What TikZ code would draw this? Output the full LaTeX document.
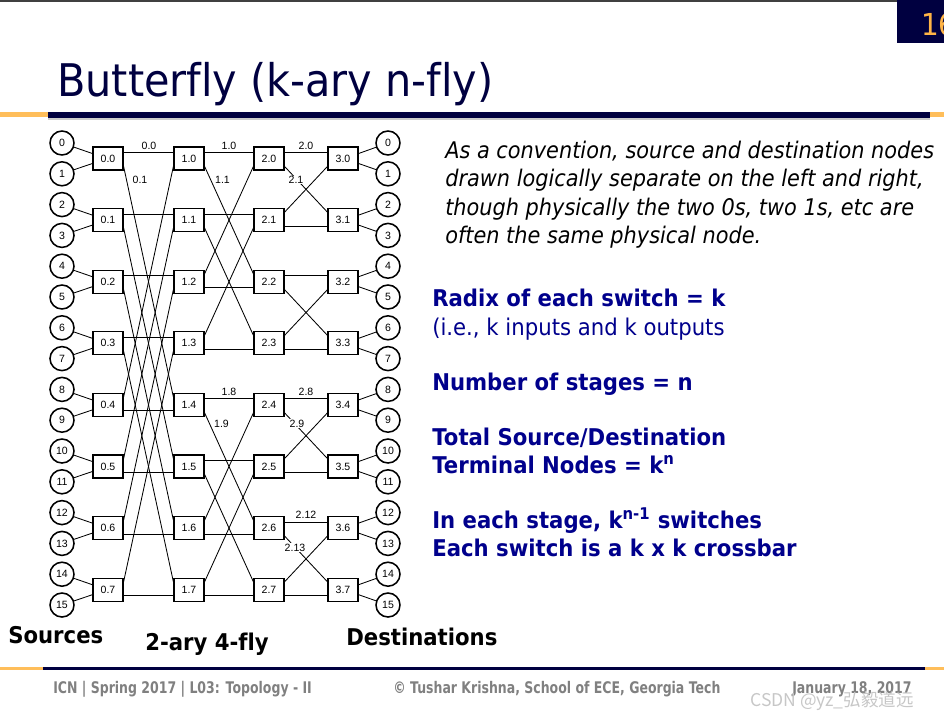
\documentclass[tikz,border=0pt]{standalone}
\usepackage{fontspec}
\setmainfont{DejaVu Sans}
\newfontfamily\slidefont[FakeStretch=0.92,Ligatures=NoCommon]{DejaVu Sans}
\newfontfamily\notefont[FakeStretch=0.91,Ligatures=NoCommon]{DejaVu Sans}
\newfontfamily\figfont{Liberation Sans}
\newfontfamily\footfont[FakeStretch=0.78,Ligatures=NoCommon]{DejaVu Sans}
\newfontfamily\cjkfont{Noto Sans CJK SC}
\usetikzlibrary{calc}
\definecolor{slidenavy}{RGB}{0,0,64}
\definecolor{textnavy}{RGB}{0,0,140}
\definecolor{barorange}{RGB}{255,190,90}
\definecolor{pagegold}{RGB}{255,180,70}
\definecolor{footgray}{RGB}{128,128,128}
\tikzset{
  term/.style={draw,circle,line width=1.1pt,minimum size=6mm,inner sep=0pt,font=\figfont\fontsize{7.5}{8}\selectfont},
  switch/.style={draw,rectangle,line width=0.9pt,minimum width=7.5mm,minimum height=5.75mm,inner sep=0pt,font=\figfont\fontsize{7.5}{8}\selectfont},
  link/.style={line width=0.6pt},
  linklabel/.style={inner sep=0.5pt,font=\figfont\fontsize{7.5}{8}\selectfont},
  crosslabel/.style={linklabel,fill=white},
  notetext/.style={anchor=base west,inner sep=0pt,font=\notefont\itshape\fontsize{16.3}{20}\selectfont},
  pointtext/.style={anchor=base west,inner sep=0pt,text=textnavy,font=\slidefont\bfseries\fontsize{16.4}{20}\selectfont},
  bottomlabel/.style={anchor=base west,inner sep=0pt,font=\slidefont\bfseries\fontsize{16.4}{20}\selectfont},
  foottext/.style={anchor=base west,inner sep=0pt,text=footgray,font=\footfont\bfseries\fontsize{11.4}{13}\selectfont}
}
\begin{document}
\begin{tikzpicture}[x=0.25mm,y=-0.25mm]
\useasboundingbox (0,0) rectangle (944,719);
% slide frame
\fill[black!75] (0,0) rectangle (944,1.5);
\fill[slidenavy] (897,0) rectangle (944,43);
\begin{scope}
\clip (897,0) rectangle (944,43);
\node[anchor=base west,inner sep=0pt,text=pagegold,font=\slidefont\fontsize{21.5}{22}\selectfont] (pagenum) at (921,35) {16};
\end{scope}
\node[anchor=base west,inner sep=0pt,text=slidenavy,font=\slidefont\fontsize{32}{36}\selectfont] (title) at (57,96.7) {Butterfly (k-ary n-fly)};
\fill[barorange] (0,112) rectangle (48,117);
\fill[slidenavy] (48,112) rectangle (930,118);
\fill[barorange] (930,112) rectangle (944,117);
\fill[gray!40] (48,118) rectangle (930,119.5);

% terminals and switches
\foreach \i in {0,...,15}{
  \node[term] (s\i) at (62,{143+30.8*\i}) {\i};
  \node[term] (d\i) at (388,{143+30.8*\i}) {\i};
}
\foreach \s/\x in {0/108,1/189,2/269,3/343}{
  \foreach \j in {0,...,7}{
    \node[switch] (sw\s\j) at (\x,{158.5+61.6*\j}) {\s.\j};
  }
}

% terminal links
\foreach \i in {0,...,15}{
  \pgfmathtruncatemacro{\j}{floor(\i/2)}
  \pgfmathsetmacro{\off}{mod(\i,2)==0 ? -5 : 5}
  \draw[link] (s\i) -- ($(sw0\j.west)+(0,\off)$);
  \draw[link] ($(sw3\j.east)+(0,\off)$) -- (d\i);
}

% stage to stage links
\foreach \s/\dist in {0/4,1/2,2/1}{
  \pgfmathtruncatemacro{\nxt}{\s+1}
  \foreach \j in {0,...,7}{
    \pgfmathtruncatemacro{\bit}{mod(floor(\j/\dist),2)}
    \pgfmathtruncatemacro{\pj}{\bit==0 ? \j+\dist : \j-\dist}
    \pgfmathtruncatemacro{\dir}{\bit==0 ? 1 : -1}
    \draw[link] ($(sw\s\j.east)+(0,-6*\dir)$) -- ($(sw\nxt\j.west)+(0,-6*\dir)$);
    \draw[link] ($(sw\s\j.east)+(0,8*\dir)$) -- ($(sw\nxt\pj.west)+(0,-8*\dir)$);
  }
}

% channel labels
\node[linklabel] (c00) at (149,145.5) {0.0};
\node[linklabel] (c01) at (140,180) {0.1};
\node[linklabel] (c10) at (229,145.5) {1.0};
\node[linklabel] (c11) at (222.5,180) {1.1};
\node[linklabel] (c20) at (306,145.5) {2.0};
\node[crosslabel] (c21) at (296,180) {2.1};
\node[linklabel] (c18) at (229,392) {1.8};
\node[linklabel] (c19) at (221.5,423.5) {1.9};
\node[linklabel] (c28) at (306,392) {2.8};
\node[crosslabel] (c29) at (297,423.5) {2.9};
\node[linklabel] (c212) at (306,515) {2.12};
\node[crosslabel] (c213) at (295,547.5) {2.13};

\node[bottomlabel] (sources) at (8,643.3) {Sources};
\node[bottomlabel] (flyname) at (145,650) {2-ary 4-fly};
\node[bottomlabel] (dests) at (346,645.7) {Destinations};

% right hand text
\node[notetext] (note1) at (445,158.3) {As a convention, source and destination nodes};
\node[notetext] (note2) at (445,186.7) {drawn logically separate on the left and right,};
\node[notetext] (note3) at (445,215) {though physically the two 0s, two 1s, etc are};
\node[notetext] (note4) at (445,243.3) {often the same physical node.};
\node[pointtext] (radix) at (432,306.7) {Radix of each switch = k};
\node[pointtext,font=\slidefont\fontsize{16.4}{20}\selectfont] (radixie) at (432,335.7) {(i.e., k inputs and k outputs};
\node[pointtext] (stages) at (432,390) {Number of stages = n};
\node[pointtext] (total1) at (432,445) {Total Source/Destination};
\node[pointtext] (total2) at (432,473.3) {Terminal Nodes = k\textsuperscript{n}};
\node[pointtext] (perstage) at (432,528.3) {In each stage, k\textsuperscript{n-1} switches};
\node[pointtext] (crossbar) at (432,556.7) {Each switch is a k x k crossbar};

% footer
\fill[barorange] (0,667) rectangle (43,670);
\fill[slidenavy] (43,667) rectangle (925,670);
\fill[barorange] (925,667) rectangle (944,670);
\node[foottext] (course) at (53,693.3) {ICN | Spring 2017 | L03: Topology - II};
\node[foottext] (author) at (393,693.3) {© Tushar Krishna, School of ECE, Georgia Tech};
\node[foottext] (date) at (792,693.3) {January 18, 2017};
\node[anchor=base west,inner sep=0pt,text=black!22,font=\cjkfont\fontsize{12.5}{14}\selectfont] (mark) at (750,706) {CSDN @yz\_弘毅道远};
\end{tikzpicture}
\end{document}
